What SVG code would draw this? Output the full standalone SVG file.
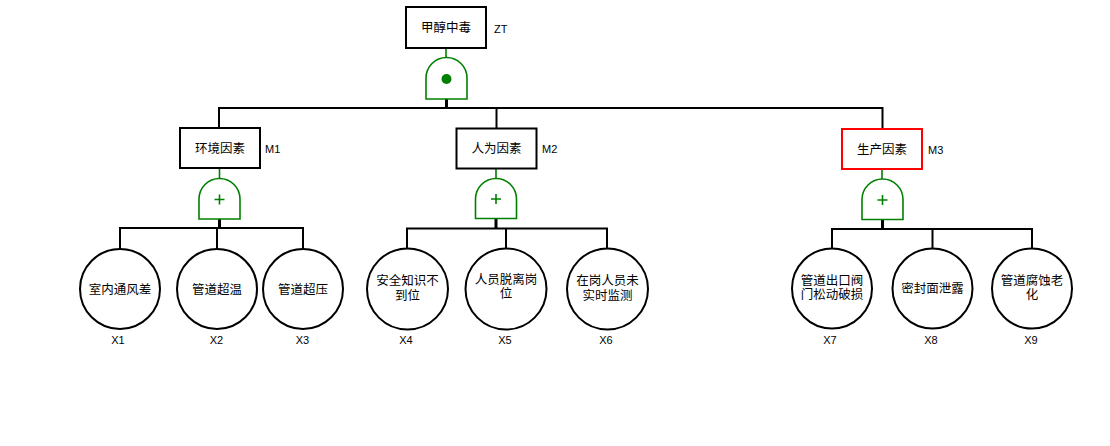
<svg xmlns="http://www.w3.org/2000/svg" width="1110" height="446" viewBox="0 0 1110 446">
<style>
.box{fill:#fff;stroke:#000;stroke-width:2}
.red{stroke:#ff0000}
.gate{fill:#fff;stroke:#008000;stroke-width:1.6}
.gs{stroke:#008000;stroke-width:1.6;fill:none}
.ev{fill:#fff;stroke:#000;stroke-width:2}
.ln{stroke:#000;stroke-width:2;fill:none}
.stem{stroke:#000;stroke-width:3;fill:none}
.t{font-family:"Noto Sans CJK SC","Liberation Sans",sans-serif;font-size:12.5px;fill:#000;text-anchor:middle}
.lb{font-family:"Liberation Sans",Arial,sans-serif;font-size:11px;fill:#000}
.lc{text-anchor:middle}
</style>
<g id="connectors">
<path class="gs" d="M446 48V57.5M219.5 168V178.5M496 169V178.5M882 169V179"/>
<path class="stem" d="M446.5 99V108M219.5 219V228M496 218.5V228.5M882.5 219.5V229"/>
<path class="ln" d="M219 128V108H882.5V129"/>
<path class="ln" d="M496.5 108V128.5"/>
<path class="ln" d="M120 249V228H303V249M217 228V249"/>
<path class="ln" d="M407 249V228.5H607V249M506 228.5V249"/>
<path class="ln" d="M832 248V229H1032V248M932.5 229V248"/>
</g>
<g id="ZT">
<rect class="box" x="406" y="7" width="80" height="41"/>
<text class="t" x="446" y="32">甲醇中毒</text>
<text class="lb" x="494" y="33">ZT</text>
</g>
<g id="G0">
<path class="gate" d="M426 99V78A20.5 20.5 0 0 1 467 78V99Z"/>
<circle cx="446.5" cy="79" r="5" fill="#008000"/>
</g>
<g id="M1">
<rect class="box" x="180" y="128" width="80" height="40"/>
<text class="t" x="220" y="152.5">环境因素</text>
<text class="lb" x="265" y="153">M1</text>
</g>
<g id="G1">
<path class="gate" d="M199 219V199A20.5 20.5 0 0 1 240 199V219Z"/>
<path class="gs" d="M214.5 199.5H224.5M219.5 194.5V204.5" stroke-width="2"/>
</g>
<g id="M2">
<rect class="box" x="456.5" y="128.5" width="80" height="40"/>
<text class="t" x="496.5" y="153">人为因素</text>
<text class="lb" x="542" y="153">M2</text>
</g>
<g id="G2">
<path class="gate" d="M475.5 218.5V199A20.5 20.5 0 0 1 516.5 199V218.5Z"/>
<path class="gs" d="M491 199H501M496 194V204" stroke-width="2"/>
</g>
<g id="M3">
<rect class="box red" x="842" y="129" width="80" height="40"/>
<text class="t" x="882" y="153.5">生产因素</text>
<text class="lb" x="928" y="154">M3</text>
</g>
<g id="G3">
<path class="gate" d="M862 219.5V199.5A20.5 20.5 0 0 1 903 199.5V219.5Z"/>
<path class="gs" d="M877.5 200H887.5M882.5 195V205" stroke-width="2"/>
</g>
<g id="X1">
<circle class="ev" cx="120" cy="289" r="40"/>
<text class="t" x="120" y="293.5">室内通风差</text>
<text class="lb lc" x="118" y="344">X1</text>
</g>
<g id="X2">
<circle class="ev" cx="217" cy="289" r="40"/>
<text class="t" x="217" y="293.5">管道超温</text>
<text class="lb lc" x="216.5" y="344">X2</text>
</g>
<g id="X3">
<circle class="ev" cx="303" cy="289" r="40"/>
<text class="t" x="303" y="293.5">管道超压</text>
<text class="lb lc" x="302.5" y="344">X3</text>
</g>
<g id="X4">
<circle class="ev" cx="407.5" cy="289" r="40.5"/>
<text class="t" x="407.5" y="285">安全知识不<tspan x="407.5" dy="14.5">到位</tspan></text>
<text class="lb lc" x="406" y="344">X4</text>
</g>
<g id="X5">
<circle class="ev" cx="506" cy="289" r="40.5"/>
<text class="t" x="506" y="283.5">人员脱离岗<tspan x="506" dy="14.5">位</tspan></text>
<text class="lb lc" x="505" y="344">X5</text>
</g>
<g id="X6">
<circle class="ev" cx="607.5" cy="289" r="40.5"/>
<text class="t" x="607.5" y="285">在岗人员未<tspan x="607.5" dy="14.5">实时监测</tspan></text>
<text class="lb lc" x="606" y="344">X6</text>
</g>
<g id="X7">
<circle class="ev" cx="832" cy="288.5" r="40"/>
<text class="t" x="832" y="284.5">管道出口阀<tspan x="832" dy="14.5">门松动破损</tspan></text>
<text class="lb lc" x="830" y="343.5">X7</text>
</g>
<g id="X8">
<circle class="ev" cx="932.5" cy="288.5" r="40"/>
<text class="t" x="932.5" y="292.5">密封面泄露</text>
<text class="lb lc" x="931" y="343.5">X8</text>
</g>
<g id="X9">
<circle class="ev" cx="1032" cy="288.5" r="40"/>
<text class="t" x="1032" y="284.5">管道腐蚀老<tspan x="1032" dy="14.5">化</tspan></text>
<text class="lb lc" x="1031" y="343.5">X9</text>
</g>
</svg>
